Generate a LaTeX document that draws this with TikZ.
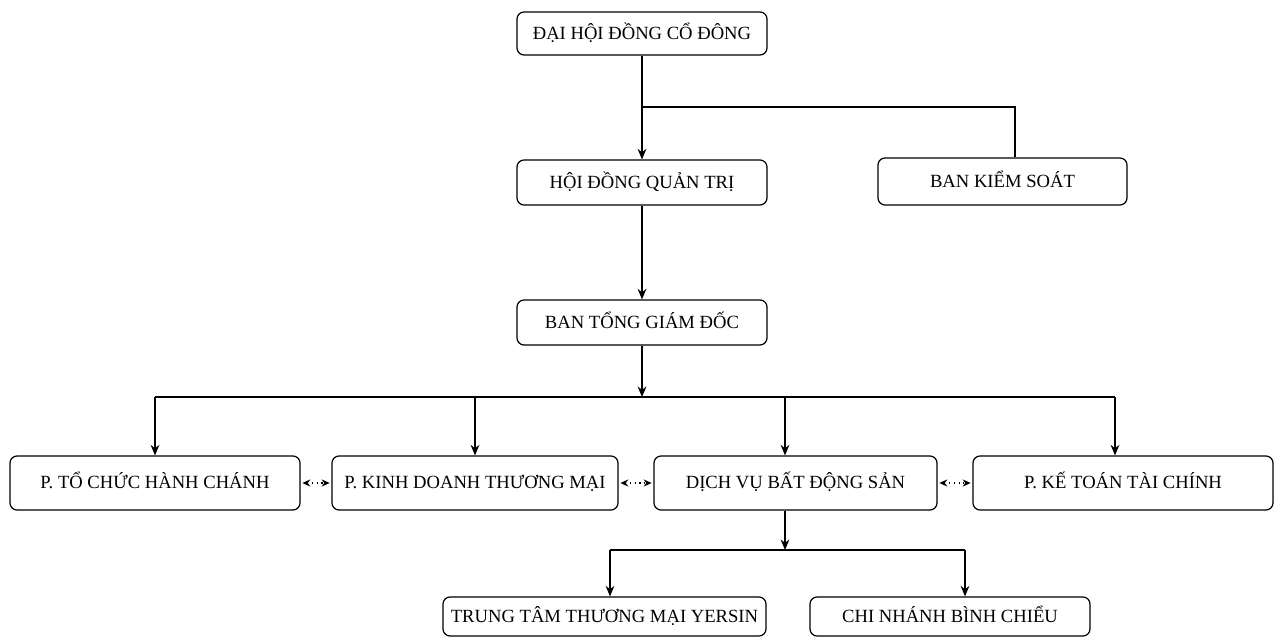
\documentclass[tikz,border=0pt]{standalone}
\usepackage{fontspec}
\setmainfont{Liberation Serif}
\usepackage{tikz}
\usetikzlibrary{arrows.meta}

\begin{document}
\begin{tikzpicture}[
    unit/.style = {rectangle,
      draw = black,
      line width = 0.7pt,
      rounded corners = 4pt,
      fill = white,
      text height = 1.9ex,
      text depth = 0.5ex,
      font = \fontsize{10.6}{12}\selectfont},
    link/.style = {line width = 0.7pt, -{Stealth[length=6pt, width=5pt]}},
    bar/.style = {line width = 0.7pt},
    side/.style = {line width = 0.7pt, dotted,
      {Stealth[length=4.5pt, width=4pt]}-{Stealth[length=4.5pt, width=4pt]},
      shorten <=1pt, shorten >=1pt}
  ]
  \useasboundingbox (0,0) rectangle (25.54,-12.74);

  % top of the company
  \node[unit,
      minimum width = 5cm,
      minimum height = 0.86cm] (dhdcd) at (12.84,-0.67) {ĐẠI HỘI ĐỒNG CỔ ĐÔNG};
  \node[unit,
      minimum width = 5cm,
      minimum height = 0.9cm] (hdqt) at (12.84,-3.65) {HỘI ĐỒNG QUẢN TRỊ};
  \node[unit,
      minimum width = 4.98cm,
      minimum height = 0.94cm] (bks) at (20.05,-3.63) {BAN KIỂM SOÁT};
  \node[unit,
      minimum width = 5cm,
      minimum height = 0.9cm] (btgd) at (12.84,-6.45) {BAN TỔNG GIÁM ĐỐC};

  % the departments
  \node[unit,
      minimum width = 5.8cm,
      minimum height = 1.08cm] (tchc) at (3.1,-9.66) {P. TỔ CHỨC HÀNH CHÁNH};
  \node[unit,
      minimum width = 5.72cm,
      minimum height = 1.08cm] (kdtm) at (9.5,-9.66) {P. KINH DOANH THƯƠNG MẠI};
  \node[unit,
      minimum width = 5.66cm,
      minimum height = 1.08cm] (dvbds) at (15.91,-9.66) {DỊCH VỤ BẤT ĐỘNG SẢN};
  \node[unit,
      minimum width = 6cm,
      minimum height = 1.08cm] (ktct) at (22.46,-9.66) {P. KẾ TOÁN TÀI CHÍNH};

  % below the real estate unit
  \node[unit,
      minimum width = 6.46cm,
      minimum height = 0.78cm] (tty) at (12.09,-12.33) {TRUNG TÂM THƯƠNG MẠI YERSIN};
  \node[unit,
      minimum width = 5.6cm,
      minimum height = 0.78cm] (cnbc) at (19.0,-12.33) {CHI NHÁNH BÌNH CHIỂU};

  % junction points
  \coordinate (j1) at (12.84,-2.14);
  \coordinate (jk) at (20.3,-2.14);
  \coordinate (bus) at (12.84,-7.94);
  \coordinate (b1) at (3.1,-7.94);
  \coordinate (b2) at (9.5,-7.94);
  \coordinate (b3) at (15.7,-7.94);
  \coordinate (b4) at (22.3,-7.94);
  \coordinate (d0) at (15.7,-11.0);
  \coordinate (d1) at (12.2,-11.0);
  \coordinate (d2) at (19.3,-11.0);

  % upper links
  \draw [link] (dhdcd.south) -- (hdqt.north);
  \draw [bar] (j1) -- (jk) -- (jk |- bks.north);
  \draw [link] (hdqt.south) -- (btgd.north);
  \draw [link] (btgd.south) -- (bus);

  % bus to the departments
  \draw [bar] (b1) -- (b4);
  \draw [link] (b1) -- (b1 |- tchc.north);
  \draw [link] (b2) -- (b2 |- kdtm.north);
  \draw [link] (b3) -- (b3 |- dvbds.north);
  \draw [link] (b4) -- (b4 |- ktct.north);

  % dotted links between departments
  \draw [side] (tchc.east) -- (kdtm.west);
  \draw [side] (kdtm.east) -- (dvbds.west);
  \draw [side] (dvbds.east) -- (ktct.west);

  % lower links
  \draw [link] (d0 |- dvbds.south) -- (d0);
  \draw [bar] (d1) -- (d2);
  \draw [link] (d1) -- (d1 |- tty.north);
  \draw [link] (d2) -- (d2 |- cnbc.north);

\end{tikzpicture}
\end{document}
